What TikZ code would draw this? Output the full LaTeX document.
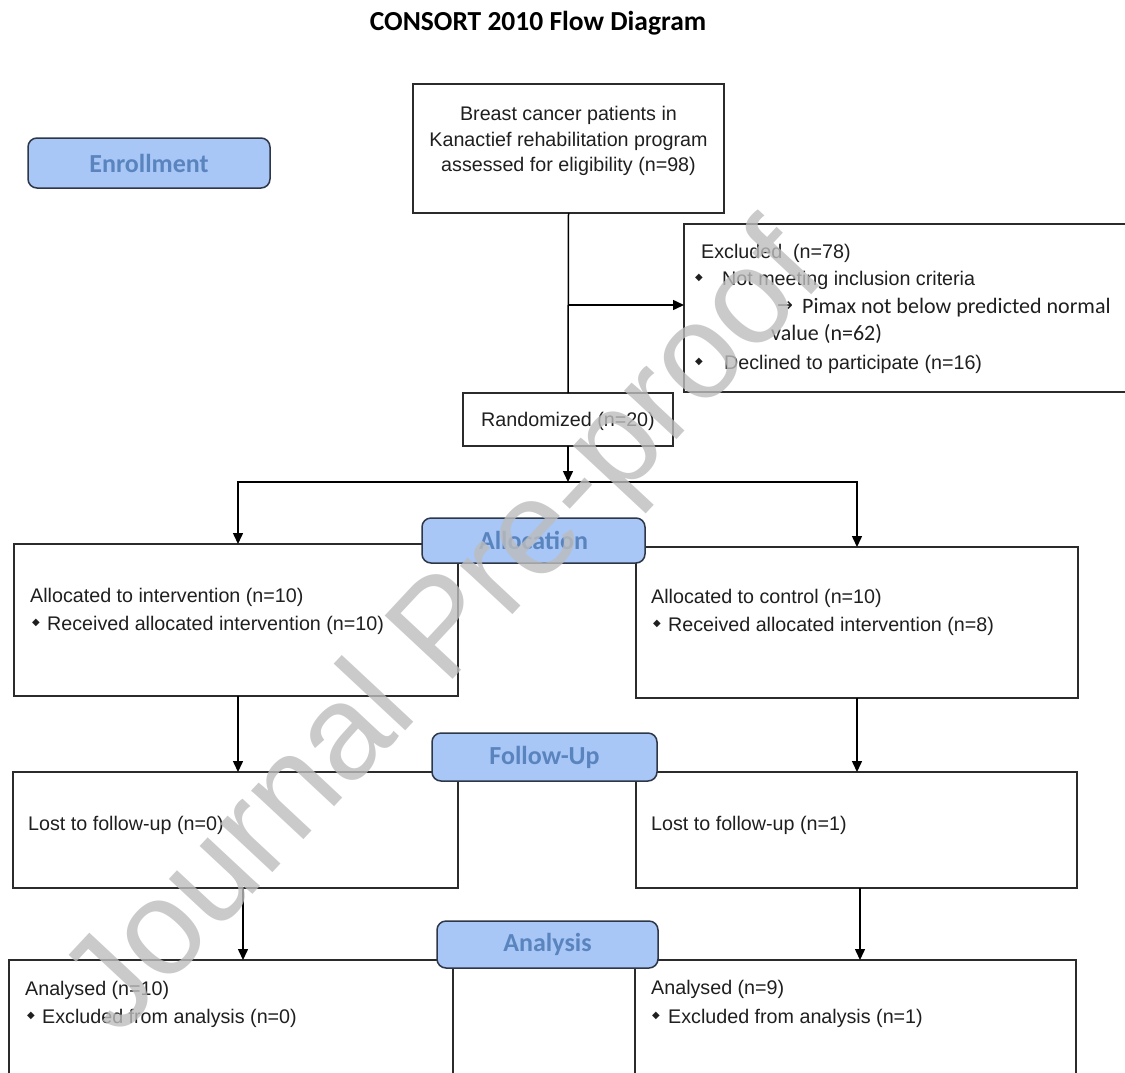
\documentclass[tikz,border=0pt]{standalone}
\usepackage{fontspec}
\setmainfont{Liberation Sans}
\newfontfamily\calfont{Carlito}
\newfontfamily\djfont{DejaVu Sans}
\usetikzlibrary{arrows.meta}
\definecolor{linec}{HTML}{2B2B2B}
\definecolor{headfill}{HTML}{A8C6F6}
\definecolor{headtext}{HTML}{5A84BE}
\definecolor{headline}{HTML}{2E3747}
\definecolor{wmark}{HTML}{BDBDBD}
\begin{document}
\begin{tikzpicture}[x=1pt,y=-1pt,
  box/.style={draw=linec,line width=1.5pt,fill=white,anchor=north west,inner sep=0pt,outer sep=0pt},
  head/.style={draw=headline,line width=1.5pt,fill=headfill,rounded corners=9pt,anchor=north west,inner sep=0pt,outer sep=0pt,text=headtext,font=\calfont\bfseries\fontsize{26}{30}\selectfont},
  txt/.style={anchor=west,inner sep=0pt,font=\fontsize{19.7}{25}\selectfont,text height=14pt,text depth=0pt,text=black!88},
  caltxt/.style={txt,font=\calfont\fontsize{22}{26}\selectfont},
  bul/.style={anchor=center,inner sep=0pt,font=\djfont\fontsize{10}{10}\selectfont,text=black!88},
  arr/.style={draw=black,line width=1.5pt,-{Triangle[length=11pt,width=10pt]}},
  conn/.style={draw=black,line width=1.5pt}]
\useasboundingbox (0,0) rectangle (1125,1072);

% title
\node[anchor=base,inner sep=0pt,font=\calfont\bfseries\fontsize{27.5}{30}\selectfont] (title) at (538,30) {CONSORT 2010 Flow Diagram};

% boxes
\node[box,minimum width=311pt,minimum height=129pt] (top) at (413,84) {};
\node[box,minimum width=470pt,minimum height=168pt] (excl) at (684,224) {};
\node[box,minimum width=210pt,minimum height=53pt] (rand) at (463,393) {};
\node[box,minimum width=444pt,minimum height=152pt] (allocL) at (14,544) {};
\node[box,minimum width=442pt,minimum height=151pt] (allocR) at (636,547) {};
\node[box,minimum width=445pt,minimum height=116pt] (lostL) at (13,772) {};
\node[box,minimum width=441pt,minimum height=116pt] (lostR) at (636,772) {};
\node[box,minimum width=444pt,minimum height=140pt] (anaL) at (9,960) {};
\node[box,minimum width=441pt,minimum height=140pt] (anaR) at (635,960) {};

% connectors
\draw[conn] (top.south) -- (rand.north);
\coordinate (j1) at (568.5,305);
\draw[arr] (j1) -- (j1 -| excl.west);
\coordinate (split) at (568,482);
\draw[arr] (rand.south) -- (split);
\draw[arr] (split) -| ([xshift=2pt]allocL.north);
\draw[arr] (split) -| (allocR.north);
\draw[arr] ([xshift=2pt]allocL.south) -- ([xshift=2.5pt]lostL.north);
\draw[arr] (allocR.south) -- ([xshift=0.5pt]lostR.north);
\draw[arr] ([xshift=7.5pt]lostL.south) -- ([xshift=12pt]anaL.north);
\draw[arr] ([xshift=3.5pt]lostR.south) -- ([xshift=4.5pt]anaR.north);

% stage headings
\node[head,minimum width=242pt,minimum height=50pt] (enroll) at (28,138) {Enrollment};
\node[head,minimum width=223pt,minimum height=45pt] (alloc) at (422,518) {Allocation};
\node[head,minimum width=225pt,minimum height=48pt] (follow) at (432,733) {Follow-Up};
\node[head,minimum width=221pt,minimum height=47pt] (analysis) at (437,921) {Analysis};

% texts
\node[anchor=center,align=center,inner sep=0pt,font=\fontsize{19.7}{25.5}\selectfont,text=black!88] (toptxt) at (568.5,141) {Breast cancer patients in\\Kanactief rehabilitation program\\assessed for eligibility (n=98)};
\node[txt,anchor=center] (randtxt) at (rand.center) {Randomized (n=20)};

\node[txt] (ex1) at (701,251) {Excluded\ \ (n=78)};
\node[bul] (exb1) at (699,278) {◆};
\node[txt] (ex2) at (722,278) {Not meeting inclusion criteria};
\node[anchor=west,inner sep=0pt,font=\djfont\fontsize{19}{20}\selectfont,text=black!88] (exarr) at (777,306) {→};
\node[caltxt] (ex3) at (802,306) {Pimax not below predicted normal};
\node[caltxt] (ex4) at (771,333) {value (n=62)};
\node[bul] (exb2) at (699,362) {◆};
\node[txt] (ex5) at (724,362) {Declined to participate (n=16)};

\node[txt] (al1) at (30,595) {Allocated to intervention (n=10)};
\node[bul] (alb1) at (36,623) {◆};
\node[txt] (al2) at (47,623) {Received allocated intervention (n=10)};
\node[txt] (ar1) at (651,596) {Allocated to control (n=10)};
\node[bul] (arb1) at (657,624) {◆};
\node[txt] (ar2) at (668,624) {Received allocated intervention (n=8)};

\node[txt] (ll1) at (28,823) {Lost to follow-up (n=0)};
\node[txt] (lr1) at (651,823) {Lost to follow-up (n=1)};

\node[txt] (nl1) at (25,988) {Analysed (n=10)};
\node[bul] (nlb1) at (31,1016) {◆};
\node[txt] (nl2) at (42,1016) {Excluded from analysis (n=0)};
\node[txt] (nr1) at (651,987) {Analysed (n=9)};
\node[bul] (nrb1) at (656,1016) {◆};
\node[txt] (nr2) at (668,1016) {Excluded from analysis (n=1)};

% watermark
\node[rotate=47,anchor=base west,inner sep=0pt,font=\fontsize{135}{135}\selectfont,text=wmark,opacity=0.8] (wm) at (118,1039) {Journal Pre-proof};
\end{tikzpicture}
\end{document}
